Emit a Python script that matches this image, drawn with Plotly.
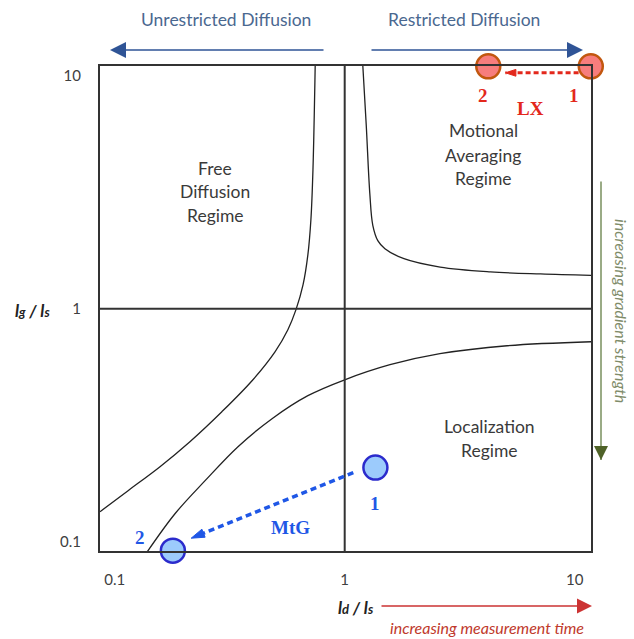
import plotly.graph_objects as go

# Regime boundaries in the (l_d/l_s, l_g/l_s) plane
free_bound_x = [0.0863, 0.1143, 0.1574, 0.2123, 0.2924, 0.3954, 0.4977, 0.5662, 0.614, 0.6592, 0.6918, 0.7129, 0.7278, 0.745]
free_bound_y = [0.1345, 0.1656, 0.2099, 0.2687, 0.3614, 0.4909, 0.6534, 0.8128, 0.991, 1.268, 1.706, 2.410, 3.951, 11.7]

loc_bound_x = [0.134, 0.1828, 0.2472, 0.3436, 0.4831, 0.6918, 1.000, 1.574, 2.594, 5.08, 11.9]
loc_bound_y = [0.0863, 0.1318, 0.1828, 0.2558, 0.3373, 0.4234, 0.4955, 0.5750, 0.6412, 0.6937, 0.7219]

mot_bound_x = [1.198, 1.241, 1.286, 1.325, 1.393, 1.496, 1.810, 2.600, 4.300, 7.110, 12.00]
mot_bound_y = [11.20, 6.120, 3.120, 2.280, 1.960, 1.810, 1.640, 1.510, 1.440, 1.410, 1.390]

# Crossover lines l_d = l_s and l_g = l_s
crossover = 1.0
axis_span = [0.05, 20.0]

# Experimental conditions (1 -> 2)
lx_x = [11.75, 4.21]
lx_y = [10.98, 10.98]
mtg_x = [1.36, 0.179]
mtg_y = [0.208, 0.0915]
point_labels = ["1", "2"]

# Trajectory arrows between conditions
lx_arrow_x = [10.4, 5.0]
lx_arrow_y = [10.3, 10.3]
mtg_arrow_x = [1.09, 0.215]
mtg_arrow_y = [0.198, 0.1035]

tick_vals = [0.1, 1, 10]
tick_text = ["0.1", "1", "10"]

SANS = "Lato"
SERIF = "Liberation Serif"
RED = "#e3281c"
BLUE = "#1f57e6"

# Plot area geometry (pixels) used to place free-floating annotations
L, R, T, B = 100, 591, 66, 551


def px(x):
    return (x - L) / (R - L)


def py(y):
    return (B - y) / (B - T)


fig = go.Figure()

for xs, ys in [(free_bound_x, free_bound_y), (loc_bound_x, loc_bound_y), (mot_bound_x, mot_bound_y)]:
    fig.add_trace(go.Scatter(x=xs, y=ys, mode="lines",
                             line=dict(color="#222222", width=1.3, shape="spline"),
                             hoverinfo="skip"))

fig.add_trace(go.Scatter(x=[crossover, crossover], y=axis_span, mode="lines",
                         line=dict(color="#333333", width=2), hoverinfo="skip"))
fig.add_trace(go.Scatter(x=axis_span, y=[crossover, crossover], mode="lines",
                         line=dict(color="#333333", width=2), hoverinfo="skip"))

# Dashed trajectories with arrow heads
fig.add_trace(go.Scatter(x=lx_arrow_x, y=lx_arrow_y, mode="lines+markers",
                         line=dict(color=RED, width=3, dash="5px,3px"),
                         marker=dict(symbol="arrow", angleref="previous", size=[0, 11], color=RED,
                                     opacity=1, line=dict(color=RED, width=1)),
                         hoverinfo="skip", cliponaxis=False))
fig.add_trace(go.Scatter(x=mtg_arrow_x, y=mtg_arrow_y, mode="lines+markers",
                         line=dict(color=BLUE, width=3.5, dash="6px,4px"),
                         marker=dict(symbol="arrow", angleref="previous", size=[0, 14], color=BLUE,
                                     opacity=1, line=dict(color=BLUE, width=1)),
                         hoverinfo="skip", cliponaxis=False))

fig.add_trace(go.Scatter(x=lx_x, y=lx_y, mode="markers",
                         marker=dict(size=24, color="#f77d7d", line=dict(color="#c2570f", width=2.5)),
                         hoverinfo="skip", cliponaxis=False))
fig.add_trace(go.Scatter(x=mtg_x, y=mtg_y, mode="markers",
                         marker=dict(size=24, color="#9ccbfc", line=dict(color="#2b2bcc", width=2.5)),
                         hoverinfo="skip", cliponaxis=False))

ann = []


def text(x, y, s, size=17.5, color="#3a3a3a", family=SANS, **kw):
    ann.append(dict(x=px(x), y=py(y), xref="paper", yref="paper", text=s, showarrow=False,
                    font=dict(size=size, color=color, family=family),
                    xanchor="center", yanchor="middle", **kw))


def arrow(x_head, y_head, dx, dy, color, width=1.6, head=2, size=2.0):
    ann.append(dict(x=px(x_head), y=py(y_head), xref="paper", yref="paper", text="",
                    showarrow=True, ax=dx, ay=dy, axref="pixel", ayref="pixel",
                    arrowhead=head, arrowsize=size, arrowwidth=width, arrowcolor=color))


# Header
text(226, 20, "Unrestricted Diffusion", color="#4a6890")
text(464, 20, "Restricted Diffusion", color="#4a6890")
arrow(110, 50, 215, 0, "#2f5496")
arrow(583, 50, -213, 0, "#2f5496")

# Regime names
for s, y in zip(["Free", "Diffusion", "Regime"], [168, 191, 215]):
    text(215, y, s)
for s, y in zip(["Motional", "Averaging", "Regime"], [130, 155, 178]):
    text(483, y, s)
for s, y in zip(["Localization", "Regime"], [426, 450]):
    text(489, y, s)

# Condition labels
text(574, 95, "<b>" + point_labels[0] + "</b>", size=19, color=RED, family=SERIF)
text(483, 95, "<b>" + point_labels[1] + "</b>", size=19, color=RED, family=SERIF)
text(530, 108, "<b>LX</b>", size=19, color=RED, family=SERIF)
text(375, 503, "<b>" + point_labels[0] + "</b>", size=19, color=BLUE, family=SERIF)
text(140, 537, "<b>" + point_labels[1] + "</b>", size=19, color=BLUE, family=SERIF)
text(290, 527, "<b>MtG</b>", size=19, color=BLUE, family=SERIF)

# Axis titles
text(32, 310, "<b><i>l<span style='font-size:13px'>g</span> / l<span style='font-size:13px'>s</span></i></b>",
     size=17, color="#222222")
text(356, 607, "<b><i>l<span style='font-size:13px'>d</span> / l<span style='font-size:13px'>s</span></i></b>",
     size=17, color="#222222")

# Measurement-time and gradient-strength cues
arrow(592, 606, -212, 0, "#cc3333", width=1.5)
text(487, 627, "<i>increasing measurement time</i>", size=16, color="#c0392b")
ann.append(dict(x=px(601), y=py(460), xref="paper", yref="paper", text="", showarrow=True,
                ax=0, ay=-280, arrowhead=0, arrowwidth=2, arrowcolor="#9aab86"))
arrow(601, 460, 0, -14, "#4f6228", width=2, size=1.4)
text(622, 311, "<i>increasing gradient strength</i>", size=16, color="#7f8c6a", textangle=90)

axis_common = dict(type="log", showgrid=False, zeroline=False, showline=True, mirror=True,
                   linecolor="#333333", linewidth=2, ticks="", tickvals=tick_vals, ticktext=tick_text,
                   tickfont=dict(family=SANS, size=15, color="#404040"), ticklabelstandoff=14)

fig.update_layout(
    width=634, height=639,
    margin=dict(l=L, r=634 - R, t=T, b=639 - B),
    plot_bgcolor="white", paper_bgcolor="white",
    showlegend=False,
    xaxis=dict(range=[-1.064, 1.071], **axis_common),
    yaxis=dict(range=[-1.040, 1.042], **axis_common),
    annotations=ann,
)

fig.write_html("out.html")
